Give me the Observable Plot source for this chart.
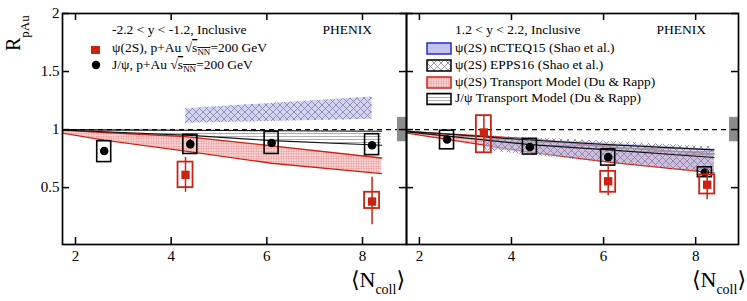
<!DOCTYPE html>
<html><head><meta charset="utf-8">
<script src="https://cdn.jsdelivr.net/npm/d3@7"></script>
<script src="https://cdn.jsdelivr.net/npm/@observablehq/plot@0.6"></script>
<style>
body{margin:0;background:#fff}
#wrap{position:relative;width:747px;height:301px;overflow:hidden;font-family:"Liberation Serif","DejaVu Serif",serif}
#wrap svg.panel{position:absolute;top:0}
#wrap svg.panel text{font-family:"Liberation Serif","DejaVu Serif",serif !important;font-size:15px !important}
#overlay{position:absolute;left:0;top:0;pointer-events:none}
</style></head><body><div id="wrap"></div>
<script>
// ---------- data ----------
const xTicks = [2, 4, 6, 8];
const yTicks = [0.5, 1, 1.5, 2];

// backward rapidity  -2.2 < y < -1.2
const bwdJpsiX = [2.6, 4.4, 6.1, 8.2];
const bwdJpsiY = [0.815, 0.875, 0.885, 0.865];
const bwdJpsiStatLo = [0.79, 0.835, 0.86, 0.84];
const bwdJpsiStatHi = [0.84, 0.915, 0.91, 0.89];
const bwdJpsiSysLo = [0.72, 0.79, 0.79, 0.78];
const bwdJpsiSysHi = [0.90, 0.955, 0.98, 0.96];

const bwdPsiX = [4.3, 8.2];
const bwdPsiY = [0.61, 0.38];
const bwdPsiStatLo = [0.46, 0.18];
const bwdPsiStatHi = [0.76, 0.59];
const bwdPsiSysLo = [0.50, 0.32];
const bwdPsiSysHi = [0.72, 0.46];

const bwdNcteqX = [4.3, 8.2];
const bwdNcteqLo = [1.055, 1.09];
const bwdNcteqHi = [1.18, 1.28];
const bwdEppsX = [4.3, 8.2];
const bwdEppsLo = [1.055, 1.09];
const bwdEppsHi = [1.18, 1.28];
const bwdTrPsiX = [1.73, 2.6, 4.3, 6.1, 8.4];
const bwdTrPsiLo = [0.97, 0.91, 0.815, 0.71, 0.62];
const bwdTrPsiHi = [0.995, 0.975, 0.94, 0.86, 0.755];
const bwdTrJpsiX = [1.73, 4.4, 6.1, 8.4];
const bwdTrJpsiLo = [0.997, 0.95, 0.905, 0.865];
const bwdTrJpsiHi = [1.0, 0.994, 0.99, 0.985];

// forward rapidity 1.2 < y < 2.2
const fwdJpsiX = [2.6, 4.4, 6.1, 8.2];
const fwdJpsiY = [0.915, 0.85, 0.763, 0.63];
const fwdJpsiStatLo = [0.895, 0.83, 0.74, 0.605];
const fwdJpsiStatHi = [0.935, 0.87, 0.785, 0.655];
const fwdJpsiSysLo = [0.83, 0.785, 0.69, 0.59];
const fwdJpsiSysHi = [0.99, 0.92, 0.83, 0.675];

const fwdPsiX = [3.4, 6.1, 8.25];
const fwdPsiY = [0.975, 0.555, 0.525];
const fwdPsiStatLo = [0.80, 0.43, 0.395];
const fwdPsiStatHi = [1.12, 0.69, 0.655];
const fwdPsiSysLo = [0.80, 0.46, 0.445];
const fwdPsiSysHi = [1.12, 0.64, 0.61];

const fwdNcteqX = [3.4, 6.1, 8.4];
const fwdNcteqLo = [0.835, 0.73, 0.632];
const fwdNcteqHi = [0.935, 0.885, 0.832];
const fwdEppsX = [3.4, 6.1, 8.4];
const fwdEppsLo = [0.82, 0.715, 0.615];
const fwdEppsHi = [0.948, 0.9, 0.85];
const fwdTrPsiX = [1.73, 4.4, 6.1, 8.4];
const fwdTrPsiLo = [0.97, 0.805, 0.72, 0.627];
const fwdTrPsiHi = [0.985, 0.92, 0.85, 0.79];
const fwdTrJpsiX = [1.73, 4.4, 6.1, 8.4];
const fwdTrJpsiLo = [0.98, 0.87, 0.825, 0.76];
const fwdTrJpsiHi = [0.985, 0.91, 0.87, 0.825];

const normUnc = [0.895, 1.105];

// ---------- style ----------
const RED = "#cc2211";
const PH_DOTS = "#fe0001", PH_H = "#fe0002", PH_X = "#fe0003";
const H = 301, MT = 13, MB = 57;

const band = (xs, lo, hi) => xs.map((x, i) => ({x, lo: lo[i], hi: hi[i]}));
const pts = (xs, y, sl, sh, yl, yh) => xs.map((x, i) => ({x, y: y[i], sl: sl[i], sh: sh[i], yl: yl[i], yh: yh[i]}));

function panel(o) {
  const innerW = o.width - o.ml - o.mr;
  const innerH = H - MT - MB;
  const trPsi = band(o.trPsiX, o.trPsiLo, o.trPsiHi);
  const trJpsi = band(o.trJpsiX, o.trJpsiLo, o.trJpsiHi);
  const ncteq = band(o.ncteqX, o.ncteqLo, o.ncteqHi);
  const epps = band(o.eppsX, o.eppsLo, o.eppsHi);
  const jpsi = pts(o.jX, o.jY, o.jStatLo, o.jStatHi, o.jSysLo, o.jSysHi);
  const psi = pts(o.pX, o.pY, o.pStatLo, o.pStatHi, o.pSysLo, o.pSysHi);
  const svg = Plot.plot({
    width: o.width, height: H,
    marginLeft: o.ml, marginRight: o.mr, marginTop: MT, marginBottom: MB,
    style: "background:transparent;font-family:'Liberation Serif','DejaVu Serif',serif;font-size:15px;color:black;overflow:visible",
    x: {domain: o.xDomain, ticks: xTicks, tickSize: 0, tickPadding: 6, tickFormat: d => String(d), label: null},
    y: {domain: [0.01, 2], ticks: yTicks, tickSize: 0, tickPadding: 3, tickFormat: d => String(d), label: null, axis: o.yAxis ? "left" : null},
    marks: [
      Plot.areaY(trPsi, {x: "x", y1: "lo", y2: "hi", fill: PH_DOTS}),
      Plot.line(trPsi, {x: "x", y: "lo", stroke: RED, strokeWidth: 1.3}),
      Plot.line(trPsi, {x: "x", y: "hi", stroke: RED, strokeWidth: 1.3}),
      Plot.areaY(ncteq, {x: "x", y1: "lo", y2: "hi", fill: "#bcbcf0", fillOpacity: 0.65}),
      Plot.areaY(epps, {x: "x", y1: "lo", y2: "hi", fill: PH_X}),
      Plot.areaY(trJpsi, {x: "x", y1: "lo", y2: "hi", fill: PH_H}),
      Plot.line(trJpsi, {x: "x", y: "lo", stroke: "#111", strokeWidth: 1.1}),
      Plot.line(trJpsi, {x: "x", y: "hi", stroke: "#111", strokeWidth: 1.1}),
      Plot.ruleY([1], {stroke: "black", strokeWidth: 1.3, strokeDasharray: "5,4"}),
      Plot.rect([normUnc], {x1: () => o.xDomain[1], x2: () => o.xDomain[1], y1: d => d[0], y2: d => d[1], insetLeft: -9, fill: "#8c8c8c"}),
      // J/psi
      Plot.rect(jpsi, {x1: "x", x2: "x", y1: "yl", y2: "yh", insetLeft: -7, insetRight: -7, fill: "none", stroke: "black", strokeWidth: 1.6}),
      Plot.ruleX(jpsi, {x: "x", y1: "sl", y2: "sh", stroke: "black", strokeWidth: 1.5}),
      Plot.dot(jpsi, {x: "x", y: "y", r: 4.3, fill: "black", stroke: "none"}),
      // psi(2S)
      Plot.rect(psi, {x1: "x", x2: "x", y1: "yl", y2: "yh", insetLeft: -7.5, insetRight: -7.5, fill: "none", stroke: RED, strokeWidth: 1.8}),
      Plot.ruleX(psi, {x: "x", y1: "sl", y2: "sh", stroke: RED, strokeWidth: 1.5}),
      Plot.dot(psi, {x: "x", y: "y", r: 4.7, symbol: "square", fill: RED, stroke: "none"}),
      // frame and inward ticks
      Plot.frame({stroke: "black", strokeWidth: 1.7}),
      Plot.tickX(xTicks, {x: d => d, insetTop: innerH - 7, stroke: "black", strokeWidth: 1.5}),
      Plot.tickX(xTicks, {x: d => d, insetBottom: innerH - 7, stroke: "black", strokeWidth: 1.5}),
      Plot.tickY(yTicks, {y: d => d, insetRight: innerW - 7, stroke: "black", strokeWidth: 1.5}),
      Plot.tickY(yTicks, {y: d => d, insetLeft: innerW - 7, stroke: "black", strokeWidth: 1.5})
    ]
  });
  svg.classList.add("panel");
  svg.style.left = o.left + "px";
  svg.querySelectorAll("text").forEach(t => {
    t.style.fontFamily = "'Liberation Serif', 'DejaVu Serif', serif";
    t.style.fontSize = "15px";
  });
  for (const [ph, id] of [[PH_DOTS, "pDots"], [PH_H, "pH"], [PH_X, "pX"]]) {
    svg.querySelectorAll(`[fill="${ph}"]`).forEach(e => e.setAttribute("fill", `url(#${id})`));
  }
  return svg;
}

const wrap = document.getElementById("wrap");

wrap.appendChild(panel({
  left: 0, width: 407, ml: 62, mr: 1, xDomain: [1.728, 8.92], yAxis: true,
  trPsiX: bwdTrPsiX, trPsiLo: bwdTrPsiLo, trPsiHi: bwdTrPsiHi,
  trJpsiX: bwdTrJpsiX, trJpsiLo: bwdTrJpsiLo, trJpsiHi: bwdTrJpsiHi,
  ncteqX: bwdNcteqX, ncteqLo: bwdNcteqLo, ncteqHi: bwdNcteqHi,
  eppsX: bwdEppsX, eppsLo: bwdEppsLo, eppsHi: bwdEppsHi,
  jX: bwdJpsiX, jY: bwdJpsiY, jStatLo: bwdJpsiStatLo, jStatHi: bwdJpsiStatHi, jSysLo: bwdJpsiSysLo, jSysHi: bwdJpsiSysHi,
  pX: bwdPsiX, pY: bwdPsiY, pStatLo: bwdPsiStatLo, pStatHi: bwdPsiStatHi, pSysLo: bwdPsiSysLo, pSysHi: bwdPsiSysHi
}));

wrap.appendChild(panel({
  left: 400, width: 347, ml: 6, mr: 9, xDomain: [1.72, 8.93], yAxis: false,
  trPsiX: fwdTrPsiX, trPsiLo: fwdTrPsiLo, trPsiHi: fwdTrPsiHi,
  trJpsiX: fwdTrJpsiX, trJpsiLo: fwdTrJpsiLo, trJpsiHi: fwdTrJpsiHi,
  ncteqX: fwdNcteqX, ncteqLo: fwdNcteqLo, ncteqHi: fwdNcteqHi,
  eppsX: fwdEppsX, eppsLo: fwdEppsLo, eppsHi: fwdEppsHi,
  jX: fwdJpsiX, jY: fwdJpsiY, jStatLo: fwdJpsiStatLo, jStatHi: fwdJpsiStatHi, jSysLo: fwdJpsiSysLo, jSysHi: fwdJpsiSysHi,
  pX: fwdPsiX, pY: fwdPsiY, pStatLo: fwdPsiStatLo, pStatHi: fwdPsiStatHi, pSysLo: fwdPsiSysLo, pSysHi: fwdPsiSysHi
}));

// ---------- overlay: patterns, titles, legends ----------
const sqrtS = `√<tspan style="text-decoration:overline">s<tspan font-size="9" dy="3">NN</tspan></tspan><tspan dy="-3">=200 GeV</tspan>`;
const ov = `
<svg id="overlay" width="747" height="301" xmlns="http://www.w3.org/2000/svg" font-family="Liberation Serif, DejaVu Serif, serif">
<defs>
  <pattern id="pDots" width="2.5" height="2.5" patternUnits="userSpaceOnUse">
    <rect width="2.5" height="2.5" fill="#f8d2d2"/>
    <circle cx="1.25" cy="1.25" r="0.7" fill="#e77a7a"/>
  </pattern>
  <pattern id="pH" width="4" height="3" patternUnits="userSpaceOnUse">
    <line x1="0" y1="1.5" x2="4" y2="1.5" stroke="#9a9a9a" stroke-width="0.8"/>
  </pattern>
  <pattern id="pX" width="7" height="7" patternUnits="userSpaceOnUse">
    <path d="M0,0L7,7M7,0L0,7" stroke="#80809c" stroke-width="0.8" fill="none"/>
  </pattern>
</defs>
<text transform="translate(20,51) rotate(-90)" fill="black"><tspan font-size="20">R</tspan><tspan font-size="13" dy="9">pAu</tspan></text>
<text x="405" y="287" text-anchor="end" font-size="22">⟨N<tspan font-size="14" dy="7">coll</tspan><tspan dy="-7">⟩</tspan></text>
<text x="746" y="287" text-anchor="end" font-size="22">⟨N<tspan font-size="14" dy="7">coll</tspan><tspan dy="-7">⟩</tspan></text>
<g font-size="13.5" fill="black">
  <text x="112" y="34">-2.2 &lt; y &lt; -1.2, Inclusive</text>
  <text x="372" y="34" text-anchor="end">PHENIX</text>
  <rect x="91" y="46" width="9" height="8" fill="${RED}"/>
  <text x="112" y="52">ψ(2S), p+Au ${sqrtS}</text>
  <circle cx="96" cy="65" r="4.2" fill="black"/>
  <text x="112" y="69">J/ψ, p+Au ${sqrtS}</text>

  <text x="455" y="34">1.2 &lt; y &lt; 2.2, Inclusive</text>
  <text x="706" y="34" text-anchor="end">PHENIX</text>
  <rect x="427" y="43" width="24" height="11" fill="#c4c4f0" stroke="#2a2ad0" stroke-width="1.5"/>
  <text x="455" y="52">ψ(2S) nCTEQ15 (Shao et al.)</text>
  <rect x="427" y="60" width="24" height="11" fill="url(#pX)" stroke="black" stroke-width="1.5"/>
  <text x="455" y="69">ψ(2S) EPPS16 (Shao et al.)</text>
  <rect x="427" y="77" width="24" height="11" fill="url(#pDots)" stroke="${RED}" stroke-width="1.5"/>
  <text x="455" y="86">ψ(2S) Transport Model (Du &amp; Rapp)</text>
  <rect x="427" y="93.5" width="24" height="11" fill="url(#pH)" stroke="black" stroke-width="1.5"/>
  <text x="455" y="102">J/ψ Transport Model (Du &amp; Rapp)</text>
</g>
</svg>`;
wrap.insertAdjacentHTML("beforeend", ov);
</script>
</body></html>
